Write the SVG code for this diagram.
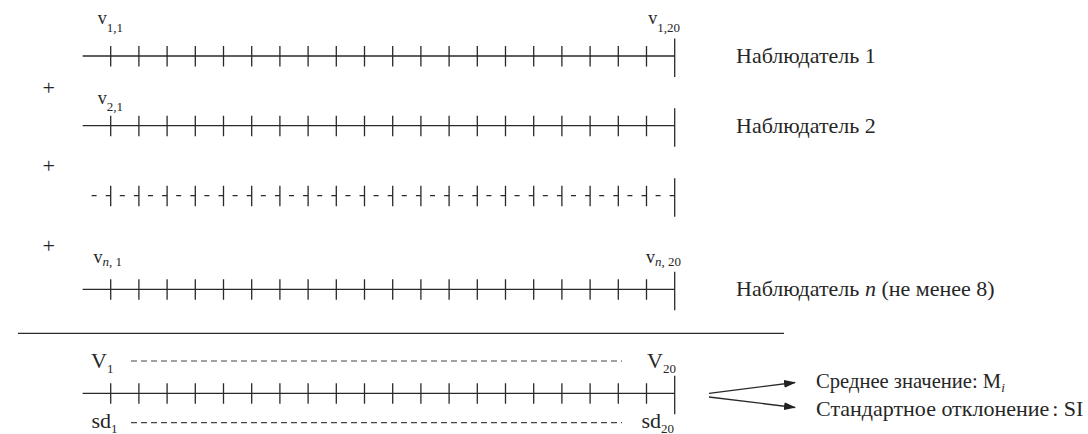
<svg xmlns="http://www.w3.org/2000/svg" xmlns:xlink="http://www.w3.org/1999/xlink" width="1088" height="434" viewBox="0 0 1088 434">
<style>
text{font-family:'Liberation Serif','Times New Roman','DejaVu Serif',serif;fill:#262626}
.lbl{font-size:22px}
.mean{font-size:20.6px}
.big{font-size:22px}
.v{font-size:18px}
.sub{font-size:13px}
.it{font-style:italic}
.ln{stroke:#2a2a2a;stroke-width:1.3;fill:none}
.dash{stroke:#444;stroke-width:1.2;fill:none;stroke-dasharray:6 4}
</style>
<defs>
<g id="tk" class="ln">
<path d="M110.7,-10V10.5M138.9,-10V10.5M167.1,-10V10.5M195.3,-10V10.5M223.5,-10V10.5M251.7,-10V10.5M279.9,-10V10.5M308.1,-10V10.5M336.3,-10V10.5M364.5,-10V10.5M392.7,-10V10.5M420.9,-10V10.5M449.1,-10V10.5M477.3,-10V10.5M505.5,-10V10.5M533.7,-10V10.5M561.9,-10V10.5M590.1,-10V10.5M618.3,-10V10.5M646.5,-10V10.5"/>
<path d="M674.7,-17.5V21"/>
</g>
<marker id="ah" markerWidth="12" markerHeight="8" refX="11" refY="4" orient="auto" markerUnits="userSpaceOnUse">
<path d="M0,0L12,4L0,8Z" fill="#222"/>
</marker>
</defs>

<g font-family="Liberation Serif, Times New Roman, serif">
<g id="observer1">
<line class="ln" x1="82.7" y1="56" x2="674.7" y2="56"/>
<use xlink:href="#tk" transform="translate(0,56)"/>
<text class="v" x="97.7" y="24">v<tspan class="sub" dy="8">1,1</tspan></text>
<text class="v" x="648.3" y="24">v<tspan class="sub" dy="8">1,20</tspan></text>
<text class="lbl" x="736" y="62.5">Наблюдатель 1</text>
</g>

<g id="plus1"><text class="big" x="48.8" y="95" text-anchor="middle">+</text></g>

<g id="observer2">
<line class="ln" x1="82.7" y1="125.7" x2="674.7" y2="125.7"/>
<use xlink:href="#tk" transform="translate(0,125.7)"/>
<text class="v" x="97.7" y="104">v<tspan class="sub" dy="7">2,1</tspan></text>
<text class="lbl" x="736" y="133">Наблюдатель 2</text>
</g>

<g id="plus2"><text class="big" x="48.8" y="172.5" text-anchor="middle">+</text></g>

<g id="observer-etc">
<path class="ln" d="M91.6,195.7H674.7" style="stroke-dasharray:5 9.1"/>
<use xlink:href="#tk" transform="translate(0,195.7)"/>
</g>

<g id="plus3"><text class="big" x="48.8" y="252.5" text-anchor="middle">+</text></g>

<g id="observerN">
<line class="ln" x1="82.7" y1="289.3" x2="674.7" y2="289.3"/>
<use xlink:href="#tk" transform="translate(0,289.3)"/>
<text class="v" x="93.5" y="263">v<tspan class="sub" dy="3"><tspan class="it">n</tspan>, 1</tspan></text>
<text class="v" x="646" y="263">v<tspan class="sub" dy="3"><tspan class="it">n</tspan>, 20</tspan></text>
<text class="lbl" x="736" y="296" xml:space="preserve">Наблюдатель <tspan class="it">n</tspan> (не менее 8)</text>
</g>

<g id="separator">
<line class="ln" x1="18" y1="333.3" x2="784" y2="333.3"/>
</g>

<g id="summary">
<line class="ln" x1="82.7" y1="393.3" x2="674.7" y2="393.3"/>
<use xlink:href="#tk" transform="translate(0,393.3)"/>
<line class="dash" x1="131" y1="361" x2="622" y2="361"/>
<line class="dash" x1="131" y1="422.7" x2="622" y2="422.7"/>
<text class="big" x="91" y="368">V<tspan class="sub" dy="5">1</tspan></text>
<text class="big" x="647" y="368">V<tspan class="sub" dy="5">20</tspan></text>
<text class="big" x="91.5" y="428">sd<tspan class="sub" dy="5">1</tspan></text>
<text class="big" x="641.5" y="428">sd<tspan class="sub" dy="5">20</tspan></text>
</g>

<g id="mean">
<text class="mean" x="816" y="388">Среднее значение: M<tspan class="sub it" dy="4">i</tspan></text>
</g>
<g id="sd">
<text class="lbl" x="816" y="416">Стандартное отклонение<tspan dx="3">: SI</tspan></text>
</g>
</g>

<g id="connectors">
<line class="ln" x1="709" y1="393.3" x2="795" y2="382.5" marker-end="url(#ah)"/>
<line class="ln" x1="709" y1="397" x2="795" y2="407.5" marker-end="url(#ah)"/>
</g>
</svg>
